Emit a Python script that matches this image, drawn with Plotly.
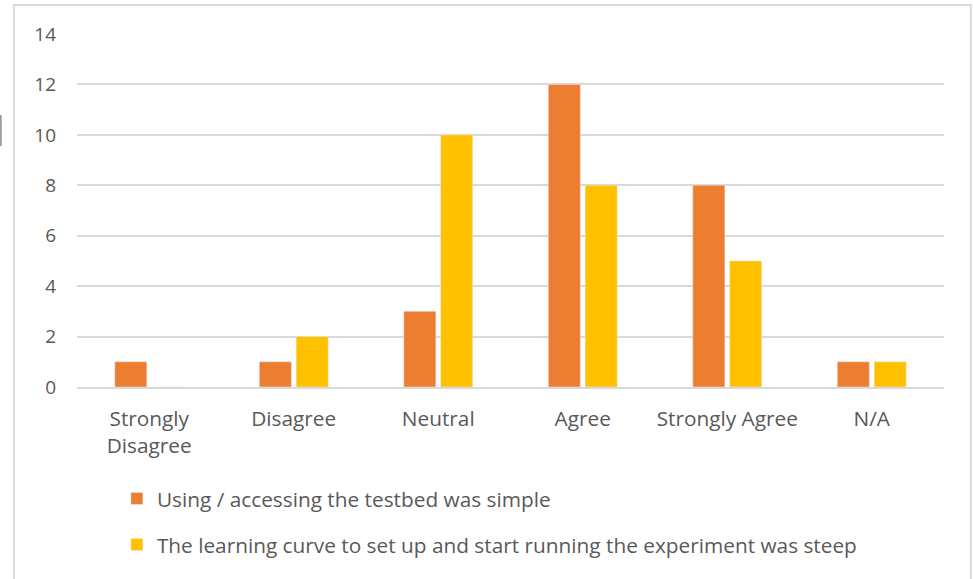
import plotly.graph_objects as go

categories = ["Strongly<br>Disagree", "Disagree", "Neutral", "Agree", "Strongly Agree", "N/A"]
series1_name = "Using / accessing the testbed was simple"
series1_values = [1, 1, 3, 12, 8, 1]
series2_name = "The learning curve to set up and start running the experiment was steep"
series2_values = [0, 2, 10, 8, 5, 1]
y_ticks = [0, 2, 4, 6, 8, 10, 12, 14]

FONT = "Open Sans, Carlito, Calibri, sans-serif"
GRAY = "#595959"
FS = 20.8

fig = go.Figure()
fig.add_trace(go.Bar(x=categories, y=series1_values, name=series1_name,
                     marker_color="#ED7D31", legendgroup="a"))
fig.add_trace(go.Bar(x=categories, y=series2_values, name=series2_name,
                     marker_color="#FFC000", legendgroup="b"))

fig.update_layout(
    width=973, height=579,
    margin=dict(l=77, r=29, t=34, b=192),
    paper_bgcolor="white", plot_bgcolor="white",
    barmode="group", bargap=0.49, bargroupgap=0.13,
    font=dict(family=FONT, size=FS, color=GRAY),
    showlegend=True,
    legend=dict(orientation="v", x=0.046, xanchor="left", y=-0.259, yanchor="top",
                traceorder="grouped", tracegroupgap=16,
                font=dict(family=FONT, size=FS, color=GRAY),
                bgcolor="rgba(0,0,0,0)"),
    xaxis=dict(showgrid=False, showline=True, linecolor="#D9D9D9", linewidth=1.5,
               ticks="", ticklabelstandoff=12, tickfont=dict(size=FS, color=GRAY)),
    yaxis=dict(range=[0, 14], tickvals=y_ticks, showgrid=True, gridcolor="#D9D9D9",
               gridwidth=1.5, zeroline=False, showline=False, ticks="",
               ticklabelstandoff=20, tickfont=dict(size=19, color=GRAY)),
    shapes=[
        dict(type="rect", xref="paper", yref="paper", x0=-0.0727, x1=1.031,
             y0=-0.7, y1=1.082, line=dict(color="#D9D9D9", width=2), fillcolor="rgba(0,0,0,0)",
             layer="below"),
        dict(type="line", xref="paper", yref="paper", x0=-0.088, x1=-0.088,
             y0=(387 - 146) / 353, y1=(387 - 115) / 353,
             line=dict(color="#9a9a9a", width=2)),
    ],
)

fig.write_html("out.html", config={"displayModeBar": False},
               post_script="document.body.style.margin='0';")
